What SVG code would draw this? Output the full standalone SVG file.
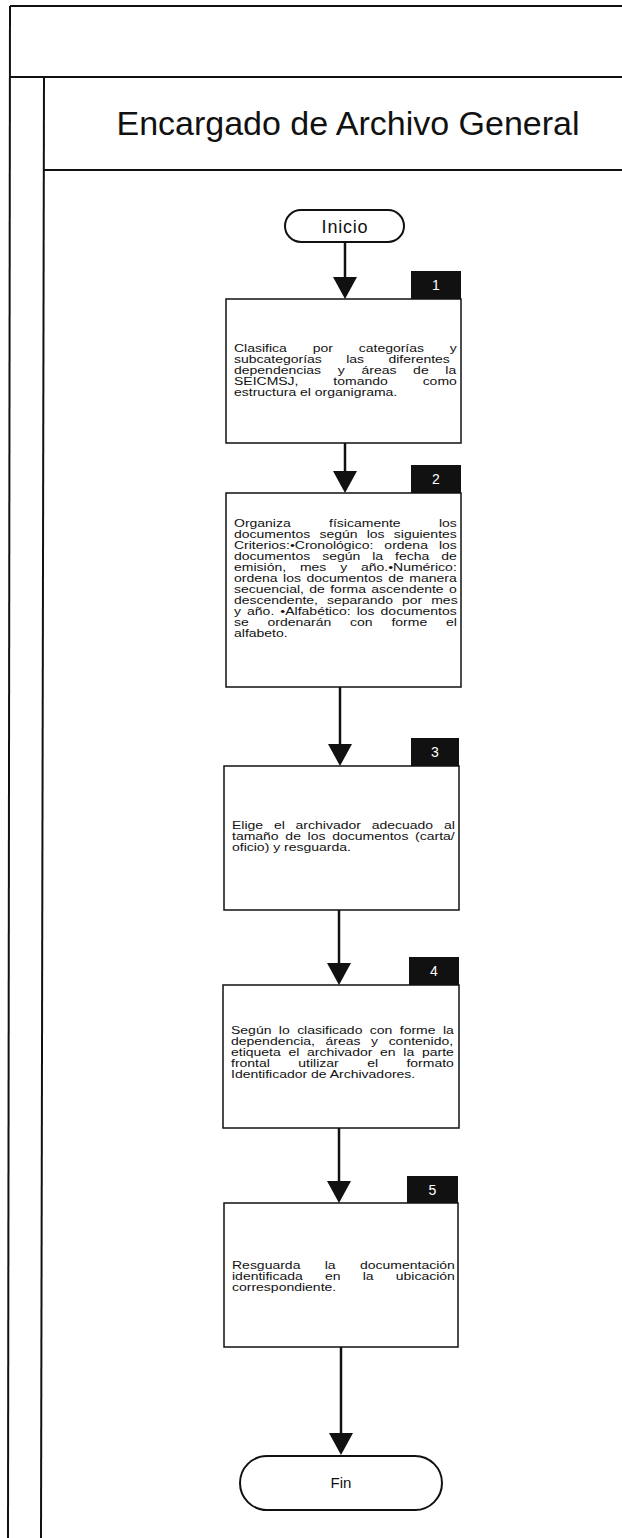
<svg xmlns="http://www.w3.org/2000/svg" width="622" height="1538" viewBox="0 0 622 1538">
<defs>
<style>
.frame{stroke:#111;stroke-width:2;fill:none}
.box{fill:#fff;stroke:#111;stroke-width:1.5}
.tab{fill:#111}
.tabt{fill:#fff;font-family:"Liberation Sans",Arial,sans-serif;font-size:14px;text-anchor:middle}
.term{fill:#fff;stroke:#111;stroke-width:2}
.t{font-family:"Liberation Sans",Arial,sans-serif;font-size:11.5px;fill:#111}
.lbl{font-family:"Liberation Sans",Arial,sans-serif;fill:#111;text-anchor:middle}
.title{font-family:"Liberation Sans",Arial,sans-serif;font-size:34px;fill:#111}
.conn{stroke:#111;stroke-width:2.5;fill:none;marker-end:url(#ah)}
</style>
<marker id="ah" markerUnits="userSpaceOnUse" viewBox="0 0 22 24" refX="11" refY="12" markerWidth="22" markerHeight="24" orient="auto">
<path d="M0,0 L22,12 L0,24 z" fill="#111"/>
</marker>
</defs>
<rect width="622" height="1538" fill="#fff"/>
<g id="frame">
<line class="frame" x1="10" y1="6" x2="622" y2="6"/>
<line class="frame" x1="10" y1="6" x2="8" y2="1538"/>
<line class="frame" x1="10" y1="77" x2="622" y2="77"/>
<line class="frame" x1="44" y1="77" x2="41" y2="1538"/>
<line class="frame" x1="44" y1="170" x2="622" y2="170"/>
<text class="title" x="348" y="135" text-anchor="middle">Encargado de Archivo General</text>
</g>
<g id="connectors">
<line class="conn" x1="345" y1="242" x2="345" y2="288"/>
<line class="conn" x1="345" y1="443" x2="345" y2="482"/>
<line class="conn" x1="340" y1="687" x2="340" y2="755"/>
<line class="conn" x1="339" y1="910" x2="339" y2="974"/>
<line class="conn" x1="339" y1="1128" x2="339" y2="1192"/>
<line class="conn" x1="341" y1="1347" x2="341" y2="1444"/>
</g>
<g id="inicio">
<rect class="term" x="285" y="210" width="119" height="32" rx="16"/>
<text class="lbl" x="345" y="233" font-size="18" letter-spacing="0.8">Inicio</text>
</g>
<g id="step1">
<rect class="box" x="226" y="299" width="235" height="144"/>
<rect class="tab" x="411" y="271" width="50" height="28"/>
<text class="tabt" x="436" y="290">1</text>
<g transform="translate(234,0) scale(1.2174,1)">
<text class="t" x="0" y="352" word-spacing="18.03">Clasifica por categorías y</text>
<text class="t" x="0" y="363" word-spacing="16.81">subcategorías las diferentes</text>
<text class="t" x="0" y="374" word-spacing="10.51">dependencias y áreas de la</text>
<text class="t" x="0" y="385" word-spacing="25.44">SEICMSJ, tomando como</text>
<text class="t" x="0" y="396">estructura el organigrama.</text>
</g>
</g>
<g id="step2">
<rect class="box" x="226" y="493" width="235" height="194"/>
<rect class="tab" x="411" y="465" width="50" height="28"/>
<text class="tabt" x="436" y="484">2</text>
<g transform="translate(234,0) scale(1.2174,1)">
<text class="t" x="0" y="527" word-spacing="28.31">Organiza físicamente los</text>
<text class="t" x="0" y="538" word-spacing="4.38">documentos según los siguientes</text>
<text class="t" x="0" y="549" word-spacing="5.86">Criterios:•Cronológico: ordena los</text>
<text class="t" x="0" y="560" word-spacing="6.64">documentos según la fecha de</text>
<text class="t" x="0" y="571" word-spacing="8.16">emisión, mes y año.•Numérico:</text>
<text class="t" x="0" y="582" word-spacing="1.36">ordena los documentos de manera</text>
<text class="t" x="0" y="593" word-spacing="1.21">secuencial, de forma ascendente o</text>
<text class="t" x="0" y="604" word-spacing="4.18">descendente, separando por mes</text>
<text class="t" x="0" y="615" word-spacing="1.80">y año. •Alfabético: los documentos</text>
<text class="t" x="0" y="626" word-spacing="12.24">se ordenarán con forme el</text>
<text class="t" x="0" y="637">alfabeto.</text>
</g>
</g>
<g id="step3">
<rect class="box" x="224" y="766" width="235" height="144"/>
<rect class="tab" x="411" y="738" width="48" height="28"/>
<text class="tabt" x="435" y="757">3</text>
<g transform="translate(232,0) scale(1.2174,1)">
<text class="t" x="0" y="829" word-spacing="5.68">Elige el archivador adecuado al</text>
<text class="t" x="0" y="840" word-spacing="2.32">tamaño de los documentos (carta/</text>
<text class="t" x="0" y="851">oficio) y resguarda.</text>
</g>
</g>
<g id="step4">
<rect class="box" x="223" y="985" width="236" height="143"/>
<rect class="tab" x="409" y="957" width="50" height="28"/>
<text class="tabt" x="434" y="976">4</text>
<g transform="translate(231,0) scale(1.2174,1)">
<text class="t" x="0" y="1034" word-spacing="2.89">Según lo clasificado con forme la</text>
<text class="t" x="0" y="1045" word-spacing="5.48">dependencia, áreas y contenido,</text>
<text class="t" x="0" y="1056" word-spacing="3.14">etiqueta el archivador en la parte</text>
<text class="t" x="0" y="1067" word-spacing="20.16">frontal utilizar el formato</text>
<text class="t" x="0" y="1078">Identificador de Archivadores.</text>
</g>
</g>
<g id="step5">
<rect class="box" x="224" y="1203" width="234" height="144"/>
<rect class="tab" x="407" y="1176" width="51" height="27"/>
<text class="tabt" x="432.5" y="1195">5</text>
<g transform="translate(232,0) scale(1.2174,1)">
<text class="t" x="0" y="1269" word-spacing="16.81">Resguarda la documentación</text>
<text class="t" x="0" y="1280" word-spacing="15.04">identificada en la ubicación</text>
<text class="t" x="0" y="1291">correspondiente.</text>
</g>
</g>
<g id="fin">
<rect class="term" x="240" y="1456" width="202" height="54" rx="27"/>
<text class="lbl" x="341" y="1488" font-size="15">Fin</text>
</g>
</svg>
